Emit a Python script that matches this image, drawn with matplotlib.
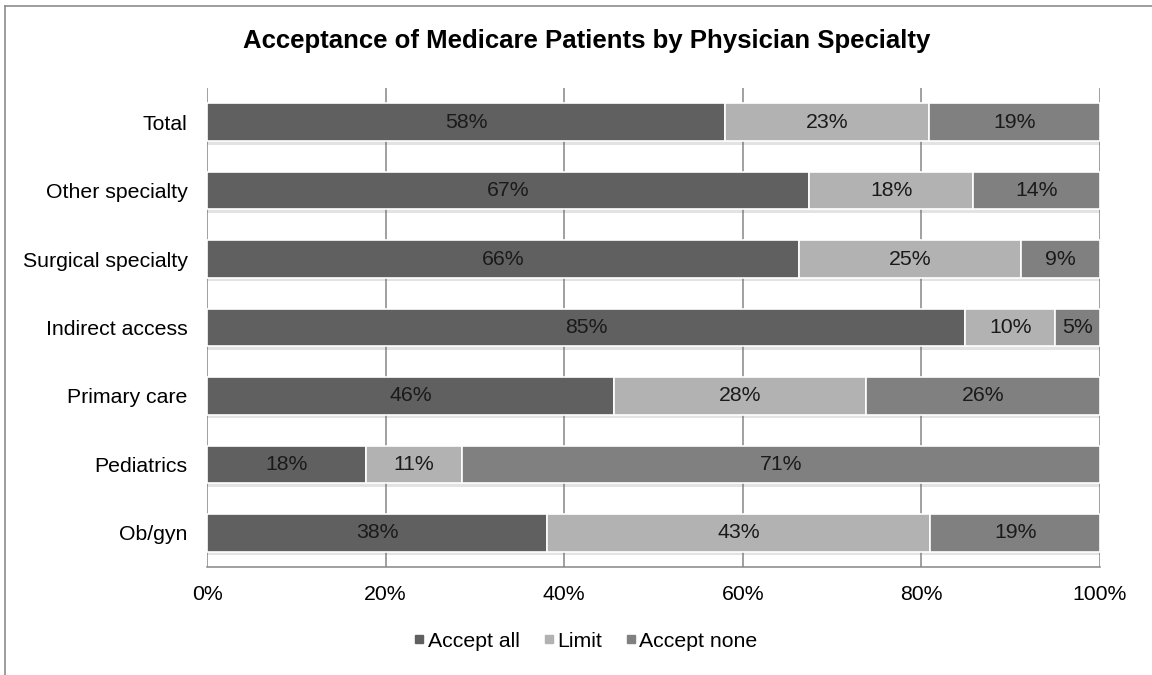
import matplotlib
matplotlib.use("Agg")
import matplotlib.pyplot as plt
import matplotlib.patheffects as pe
from matplotlib.lines import Line2D
import numpy as np

plt.rcParams['font.family'] = ['Liberation Sans', 'DejaVu Sans']

categories = ['Ob/gyn', 'Pediatrics', 'Primary care', 'Indirect access',
              'Surgical specialty', 'Other specialty', 'Total']
accept_all = [38.1, 17.8, 45.6, 84.9, 66.3, 67.4, 58.0]
limit = [42.9, 10.8, 28.2, 10.1, 24.9, 18.4, 22.9]
accept_none = [19.0, 71.4, 26.2, 5.0, 8.8, 14.2, 19.1]

series = ['Accept all', 'Limit', 'Accept none']
colors = ['#606060', '#b2b2b2', '#808080']

fig = plt.figure(figsize=(11.52, 6.75), dpi=100)
ax = fig.add_axes([0.1797, 0.16, 0.9549 - 0.1797, 0.8696 - 0.16])

y = np.arange(len(categories))
left = np.zeros(len(categories))
shadow = [pe.SimplePatchShadow(offset=(0, -2.5), shadow_rgbFace='#666666', alpha=0.18),
          pe.Normal()]
for name, vals, col in zip(series, [accept_all, limit, accept_none], colors):
    vals = np.array(vals)
    bars = ax.barh(y, vals, left=left, height=0.55, color=col,
                   edgecolor='white', linewidth=1.2, label=name, zorder=3)
    for b in bars:
        b.set_path_effects(shadow)
    for yi, l, v in zip(y, left, vals):
        ax.text(l + v / 2, yi, f"{v:.0f}%", ha='center', va='center',
                fontsize=15.3, color='#1a1a1a', zorder=4)
    left += vals

ax.set_xlim(0, 100)
ax.set_ylim(-0.5, len(categories) - 0.5)
ax.set_xticks(np.arange(0, 101, 20))
ax.set_xticklabels([f"{t}%" for t in range(0, 101, 20)])
ax.set_yticks(y)
ax.set_yticklabels(categories)
ax.tick_params(axis='x', length=0, pad=13, labelsize=15.3)
ax.tick_params(axis='y', length=0, pad=14, labelsize=15.3)
ax.xaxis.grid(True, color='#868686', linewidth=1.1, zorder=0)
ax.set_axisbelow(True)
for s in ['top', 'right', 'left']:
    ax.spines[s].set_visible(False)
ax.spines['bottom'].set_color('#868686')
ax.spines['bottom'].set_linewidth(1.1)

fig.text(0.509, 0.939, 'Acceptance of Medicare Patients by Physician Specialty',
         ha='center', va='center', fontsize=18.5, fontweight='bold')

handles = [Line2D([], [], marker='s', linestyle='none', markersize=6,
                  color=c) for c in colors]
fig.legend(handles, series, loc='center', bbox_to_anchor=(0.508, 0.05),
           ncol=3, frameon=False, fontsize=15.3, handlelength=0.6,
           handletextpad=0.1, columnspacing=1.05)

# chart area border (top and left edges only visible)
fig.add_artist(Line2D([5 / 1152, 1], [1 - 6 / 675, 1 - 6 / 675],
                      transform=fig.transFigure, color='#8c8c8c', linewidth=1.2))
fig.add_artist(Line2D([5 / 1152, 5 / 1152], [0, 1 - 6 / 675],
                      transform=fig.transFigure, color='#8c8c8c', linewidth=1.2))

fig.savefig('out.png', dpi=100)
